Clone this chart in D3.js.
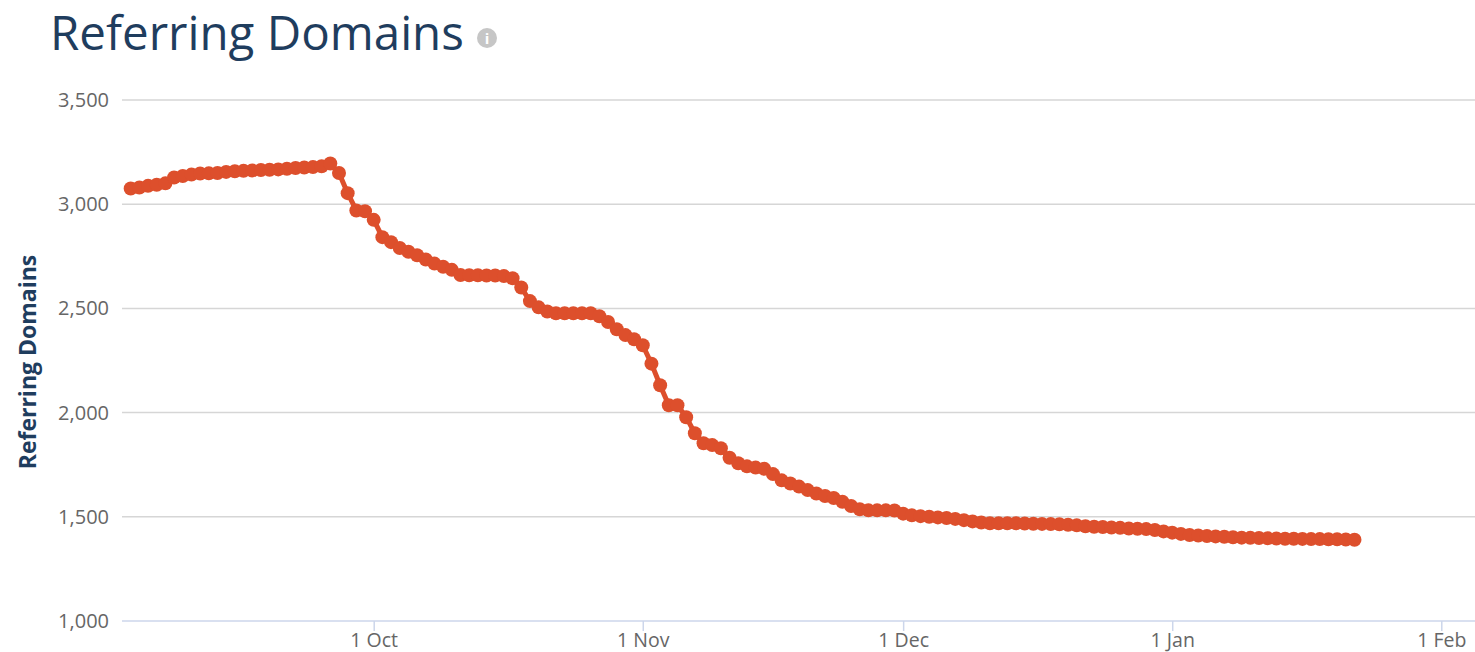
<!DOCTYPE html>
<html>
<head>
<meta charset="utf-8">
<script src="https://cdn.jsdelivr.net/npm/d3@7"></script>
<style>
  body { margin: 0; background: #fff; }
  svg { display: block; font-family: "Open Sans", sans-serif; }
</style>
</head>
<body>
<svg id="chart" width="1475" height="652"></svg>
<script>
// daily referring domains, one array per month
var sepStart = new Date(2017, 8, 3);
var sepValues = [3075, 3080, 3088, 3093, 3100, 3128, 3135, 3142, 3147, 3148, 3150, 3155, 3158, 3160,
	3162, 3164, 3165, 3167, 3170, 3174, 3176, 3178, 3182, 3195, 3150, 3053, 2970, 2966];
var octStart = new Date(2017, 9, 1);
var octValues = [2925, 2842, 2818, 2790, 2772, 2755, 2735, 2715, 2700, 2685, 2660, 2659, 2659, 2658,
	2658, 2655, 2645, 2600, 2535, 2505, 2485, 2477, 2477, 2477, 2477, 2477, 2462, 2435, 2400, 2372, 2352];
var novStart = new Date(2017, 10, 1);
var novValues = [2323, 2235, 2131, 2035, 2035, 1978, 1901, 1853, 1844, 1829, 1783, 1757, 1742, 1736,
	1730, 1705, 1675, 1660, 1645, 1628, 1612, 1600, 1590, 1572, 1552, 1536, 1531, 1531, 1531, 1530];
var decStart = new Date(2017, 11, 1);
var decValues = [1515, 1507, 1503, 1500, 1497, 1494, 1490, 1484, 1478, 1473, 1469, 1469, 1469, 1469,
	1468, 1467, 1466, 1465, 1464, 1462, 1459, 1455, 1452, 1451, 1449, 1447, 1444, 1443, 1441, 1437, 1430];
var janStart = new Date(2018, 0, 1);
var janValues = [1424, 1418, 1413, 1410, 1408, 1406, 1404, 1402, 1400, 1399, 1398, 1397, 1396, 1395,
	1395, 1394, 1393, 1393, 1392, 1392, 1391, 1390];

var yTicks = [1000, 1500, 2000, 2500, 3000, 3500];
var xTicks = [new Date(2017, 9, 1), new Date(2017, 10, 1), new Date(2017, 11, 1), new Date(2018, 0, 1), new Date(2018, 1, 1)];
var xDomain = [new Date(2017, 8, 2), new Date(2018, 1, 5)];

var title = "Referring Domains";
var yTitle = "Referring Domains";
var seriesColor = "#dd4f2c";

function monthRows(start, values) {
	return values.map(function (v, i) {
		return { date: d3.timeDay.offset(start, i), value: v };
	});
}

var data = [].concat(
	monthRows(sepStart, sepValues),
	monthRows(octStart, octValues),
	monthRows(novStart, novValues),
	monthRows(decStart, decValues),
	monthRows(janStart, janValues)
);

(function draw() {
	var svg = d3.select("#chart"),
		plotLeft = 122,
		plotRight = 1476,
		plotTop = 100,
		plotBottom = 621;

	var x = d3.scaleTime().domain(xDomain).range([plotLeft, plotRight]);
	var y = d3.scaleLinear().domain([1000, 3500]).range([plotBottom, plotTop]);

	svg.append("rect").attr("width", 1475).attr("height", 652).attr("fill", "#fff");

	// title
	svg.append("text")
		.attr("x", 50).attr("y", 50)
		.attr("font-size", 47.5)
		.attr("fill", "#1f3d5e")
		.text(title);

	var info = svg.append("g").attr("transform", "translate(487,38)");
	info.append("circle").attr("r", 10).attr("fill", "#c6c6c6");
	info.append("text")
		.attr("text-anchor", "middle").attr("y", 6)
		.attr("font-size", 15).attr("font-weight", "bold")
		.attr("fill", "#fff").text("i");

	// grid
	svg.append("g")
		.selectAll("line")
		.data(yTicks.filter(function (d) { return d > 1000; }))
		.join("line")
		.attr("x1", plotLeft).attr("x2", 1475)
		.attr("y1", function (d) { return y(d); })
		.attr("y2", function (d) { return y(d); })
		.attr("stroke", "#d6d6d6")
		.attr("stroke-width", 1.5);

	// y axis labels
	var yAxis = svg.append("g")
		.attr("transform", "translate(" + (plotLeft - 13) + ",0)")
		.call(d3.axisLeft(y).tickValues(yTicks).tickSize(0).tickPadding(0).tickFormat(d3.format(",")));
	yAxis.select(".domain").remove();
	yAxis.selectAll("text")
		.attr("font-family", "Open Sans, sans-serif")
		.attr("font-size", 20)
		.attr("fill", "#666");

	svg.append("text")
		.attr("transform", "translate(36,362) rotate(-90)")
		.attr("text-anchor", "middle")
		.attr("font-size", 23)
		.attr("font-weight", "bold")
		.attr("fill", "#1f3d5e")
		.text(yTitle);

	// x axis
	var xAxis = svg.append("g")
		.attr("transform", "translate(0," + plotBottom + ")")
		.call(d3.axisBottom(x).tickValues(xTicks).tickSize(10).tickPadding(2)
			.tickFormat(d3.timeFormat("%-d %b")));
	xAxis.select(".domain")
		.attr("d", "M" + plotLeft + ",0H1475")
		.attr("stroke", "#ccd6eb")
		.attr("stroke-width", 1.5);
	xAxis.selectAll(".tick line").attr("stroke", "#ccd6eb").attr("stroke-width", 1.5);
	xAxis.selectAll("text")
		.attr("font-family", "Open Sans, sans-serif")
		.attr("font-size", 19.5)
		.attr("fill", "#666");

	// series
	var line = d3.line()
		.x(function (d) { return x(d.date); })
		.y(function (d) { return y(d.value); });

	svg.append("path")
		.datum(data)
		.attr("d", line)
		.attr("fill", "none")
		.attr("stroke", seriesColor)
		.attr("stroke-width", 5);

	svg.append("g")
		.selectAll("circle")
		.data(data)
		.join("circle")
		.attr("cx", function (d) { return x(d.date); })
		.attr("cy", function (d) { return y(d.value); })
		.attr("r", 7)
		.attr("fill", seriesColor);
})();
</script>
</body>
</html>
